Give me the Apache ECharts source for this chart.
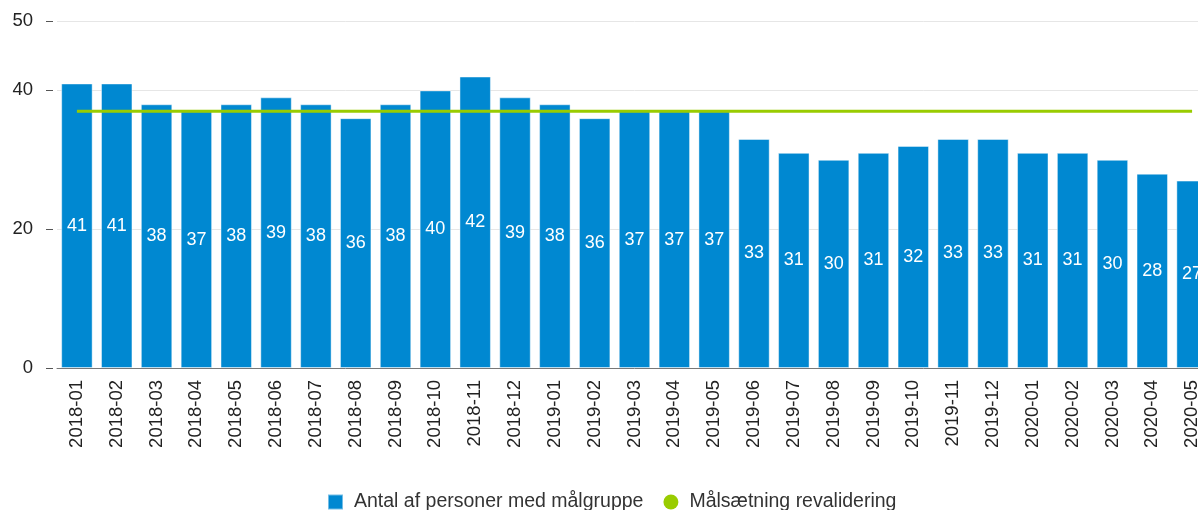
<!DOCTYPE html>
<html>
<head>
<meta charset="utf-8">
<script src="https://cdn.jsdelivr.net/npm/echarts@6/dist/echarts.min.js"></script>
<style>
  html, body { margin: 0; padding: 0; background: #fff; overflow: hidden; }
  /* wider than the window: the last bar runs off the right edge */
  #chart { width: 1212px; height: 510px; }
</style>
</head>
<body>
<div id="chart"></div>
<script>
  // Data
  var months = [
    "2018-01", "2018-02", "2018-03", "2018-04", "2018-05", "2018-06",
    "2018-07", "2018-08", "2018-09", "2018-10", "2018-11", "2018-12",
    "2019-01", "2019-02", "2019-03", "2019-04", "2019-05", "2019-06",
    "2019-07", "2019-08", "2019-09", "2019-10", "2019-11", "2019-12",
    "2020-01", "2020-02", "2020-03", "2020-04", "2020-05"
  ];
  var antal = [41, 41, 38, 37, 38, 39, 38, 36, 38, 40, 42, 39, 38, 36, 37, 37, 37,
    33, 31, 30, 31, 32, 33, 33, 31, 31, 30, 28, 27];
  var maalsaetning = [37, 37, 37, 37, 37, 37, 37, 37, 37, 37, 37, 37, 37, 37, 37, 37, 37,
    37, 37, 37, 37, 37, 37, 37, 37, 37, 37, 37, 37];
  var seriesNames = ["Antal af personer med målgruppe", "Målsætning revalidering"];

  var FONT = "'Liberation Sans', Arial, sans-serif";
  var chart = echarts.init(document.getElementById("chart"), null, { renderer: "canvas" });

  chart.setOption({
    animation: false,
    textStyle: { fontFamily: FONT },
    grid: { left: 57, top: 21, bottom: 142, right: 0 },
    legend: {
      left: 322,
      top: 487,
      itemWidth: 15,
      itemHeight: 15,
      itemGap: 20,
      textStyle: { fontFamily: FONT, fontSize: 19.5, color: "#333", padding: [0, 0, 0, 6] },
      data: [
        { name: seriesNames[0], icon: "rect" },
        { name: seriesNames[1], icon: "circle" }
      ]
    },
    xAxis: {
      type: "category",
      data: months,
      axisLine: { lineStyle: { color: "#777", width: 1 } },
      axisTick: { length: 5, lineStyle: { color: "#777" } },
      axisLabel: {
        rotate: 90,
        margin: 12,
        fontFamily: FONT,
        fontSize: 18.5,
        color: "#222",
        interval: 0
      }
    },
    yAxis: {
      type: "value",
      min: 0,
      max: 50,
      interval: 20,
      offset: 4,
      axisLine: { show: false },
      axisTick: { show: true, length: 7, lineStyle: { color: "#555" } },
      axisLabel: { margin: 20, fontFamily: FONT, fontSize: 18.5, color: "#222" },
      splitLine: { lineStyle: { color: "#e6e6e6", width: 1 } }
    },
    series: [
      {
        name: seriesNames[0],
        type: "bar",
        data: antal,
        barCategoryGap: "21%",
        itemStyle: {
          color: "#0088d1",
          borderColor: "rgba(255,255,255,0.45)",
          borderWidth: 1
        },
        label: {
          show: true,
          position: "inside",
          color: "#fff",
          fontFamily: FONT,
          fontSize: 18
        }
      },
      {
        name: seriesNames[1],
        type: "line",
        data: maalsaetning,
        showSymbol: false,
        symbol: "circle",
        itemStyle: { color: "#99cc00" },
        lineStyle: { color: "#99cc00", width: 3 },
        z: 5
      }
    ]
  });
</script>
</body>
</html>
